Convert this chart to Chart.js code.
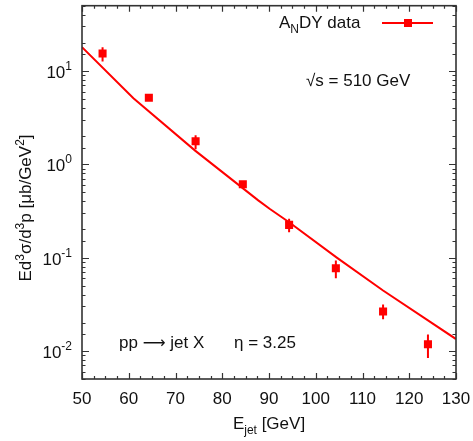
<!DOCTYPE html>
<html><head><meta charset="utf-8">
<script src="https://cdn.jsdelivr.net/npm/chart.js@4/dist/chart.umd.min.js"></script>
<style>html,body{margin:0;padding:0;background:#fff}#wrap{width:473px;height:441px;position:relative}</style>
</head><body><div id="wrap"><canvas id="c"></canvas></div>
<script>
// ---- data ----
const dataE      = [54.4, 64.3, 74.3, 84.4, 94.3, 104.3, 114.4, 124.0];
const dataXsec   = [15.4, 5.17, 1.76, 0.61, 0.224, 0.077, 0.0264, 0.0118];
const dataErrLo  = [12.6, 4.85, 1.45, 0.57, 0.187, 0.060, 0.0219, 0.0084];
const dataErrHi  = [17.9, 5.45, 2.04, 0.65, 0.260, 0.093, 0.0314, 0.0150];
const theoryE    = [50, 61, 74.2, 87.7, 90.2, 94.3, 104.5, 114.4, 130];
const theoryXsec = [18.0, 5.1, 1.40, 0.41, 0.332, 0.239, 0.100, 0.0444, 0.0134];
const xTickValues = [50, 60, 70, 80, 90, 100, 110, 120, 130];
const yTickValues = [0.01, 0.1, 1, 10];
const yTickExps   = ['-2', '-1', '0', '1'];
const legendLabel = ['A', 'N', 'DY data'];

const FONT = '"Liberation Sans", Arial, sans-serif';
const RED = '#ff0000';
const INK = '#111';

const extras = {
  id: 'extras',
  beforeDatasetsDraw(chart) {
    const ctx = chart.ctx, xs = chart.scales.x, ys = chart.scales.y;
    ctx.save();
    ctx.strokeStyle = RED; ctx.lineWidth = 2;
    ctx.beginPath();
    for (let i = 0; i < dataE.length; i++) {
      const px = xs.getPixelForValue(dataE[i]);
      ctx.moveTo(px, ys.getPixelForValue(dataErrLo[i]));
      ctx.lineTo(px, ys.getPixelForValue(dataErrHi[i]));
    }
    ctx.stroke();
    ctx.restore();
  },
  afterDraw(chart) {
    const ctx = chart.ctx, xs = chart.scales.x, ys = chart.scales.y;
    const a = chart.chartArea;
    ctx.save();
    ctx.strokeStyle = '#333'; ctx.lineWidth = 1.2;
    ctx.beginPath();
    for (let v = xs.min; v <= xs.max + 1e-9; v += 2.5) {
      const px = Math.round(xs.getPixelForValue(v)) + 0.5;
      const major = Math.abs(v / 10 - Math.round(v / 10)) < 1e-6;
      const L = major ? 6 : 3;
      ctx.moveTo(px, a.bottom); ctx.lineTo(px, a.bottom - L);
      ctx.moveTo(px, a.top); ctx.lineTo(px, a.top + L);
    }
    ys.ticks.forEach(t => {
      const v = t.value;
      const lg = Math.log10(v);
      const major = Math.abs(lg - Math.round(lg)) < 1e-6;
      const py = Math.round(ys.getPixelForValue(v)) + 0.5;
      const L = major ? 7 : 3.5;
      ctx.moveTo(a.left, py); ctx.lineTo(a.left + L, py);
      ctx.moveTo(a.right, py); ctx.lineTo(a.right - L, py);
    });
    ctx.stroke();
    ctx.strokeStyle = '#333'; ctx.lineWidth = 1.6;
    ctx.strokeRect(a.left, a.top, a.right - a.left, a.bottom - a.top);

    ctx.fillStyle = INK;
    ctx.textBaseline = 'alphabetic';
    yTickValues.forEach((v, i) => {
      const py = ys.getPixelForValue(v);
      const exp = yTickExps[i];
      ctx.font = '12px ' + FONT;
      const we = ctx.measureText(exp).width;
      const right = a.left - 10;
      ctx.fillText(exp, right - we, py - 1);
      ctx.font = '17px ' + FONT;
      const wb = ctx.measureText('10').width;
      ctx.fillText('10', right - we - wb, py + 7);
    });

    function rich(parts, x, y, align) {
      let total = 0;
      parts.forEach(p => { ctx.font = p.size + 'px ' + (p.f || FONT); p.w = ctx.measureText(p.t).width; total += p.w; });
      let cx = align === 'center' ? x - total / 2 : x;
      parts.forEach(p => { ctx.font = p.size + 'px ' + (p.f || FONT); ctx.fillText(p.t, cx, y + (p.dy || 0)); cx += p.w; });
      return total;
    }
    rich([{t:'E',size:17},{t:'jet',size:12,dy:5},{t:' [GeV]',size:17}], 269, 429, 'center');
    ctx.save();
    ctx.translate(31, 208);
    ctx.rotate(-Math.PI / 2);
    rich([{t:'Ed',size:17},{t:'3',size:12,dy:-7},{t:'σ/d',size:17},{t:'3',size:12,dy:-7},
          {t:'p [μb/GeV',size:17},{t:'2',size:12,dy:-7},{t:']',size:17}], 0, 0, 'center');
    ctx.restore();
    rich([{t:'√s = 510 GeV',size:17}], 306, 86, 'left');
    rich([{t:'pp ',size:17},{t:'⟶',size:16,f:'"DejaVu Sans", sans-serif',dy:0},{t:' jet X',size:17}], 119, 348, 'left');
    rich([{t:'η = 3.25',size:17}], 234, 348, 'left');
    rich([{t:legendLabel[0],size:17},{t:legendLabel[1],size:12,dy:5},{t:legendLabel[2],size:17}], 279, 28, 'left');
    ctx.strokeStyle = RED; ctx.lineWidth = 2;
    ctx.beginPath(); ctx.moveTo(382, 23); ctx.lineTo(433, 23); ctx.stroke();
    ctx.fillStyle = RED; ctx.fillRect(404, 19, 8, 8);
    ctx.restore();
  }
};

new Chart(document.getElementById('c'), {
  type: 'scatter',
  data: {
    datasets: [
      {
        label: 'theory',
        data: theoryE.map((e, i) => ({x: e, y: theoryXsec[i]})),
        showLine: true, borderColor: RED, borderWidth: 2, pointRadius: 0, tension: 0, fill: false
      },
      {
        label: 'ANDY data',
        data: dataE.map((e, i) => ({x: e, y: dataXsec[i]})),
        showLine: false, pointStyle: 'rect', pointRadius: 5.7, backgroundColor: RED, borderColor: RED, borderWidth: 0
      }
    ]
  },
  options: {
    responsive: true, maintainAspectRatio: false, animation: false,
    layout: {padding: {left: 0, right: 17, top: 5, bottom: 0}},
    plugins: {legend: {display: false}, tooltip: {enabled: false}},
    scales: {
      x: {
        type: 'linear', min: 50, max: 130,
        afterBuildTicks: s => { s.ticks = xTickValues.map(v => ({value: v})); },
        afterFit: s => { s.height = 62; s.paddingLeft = 0; s.paddingRight = 0; },
        grid: {display: false, drawTicks: false},
        border: {display: false},
        ticks: {font: {family: FONT, size: 17}, color: INK, padding: 10, maxRotation: 0, autoSkip: false}
      },
      y: {
        type: 'logarithmic', min: 0.005, max: 50,
        afterFit: s => { s.width = 82; s.paddingTop = 0; s.paddingBottom = 0; },
        grid: {display: false, drawTicks: false},
        border: {display: false},
        ticks: {display: false}
      }
    }
  },
  plugins: [extras]
});
</script></body></html>
